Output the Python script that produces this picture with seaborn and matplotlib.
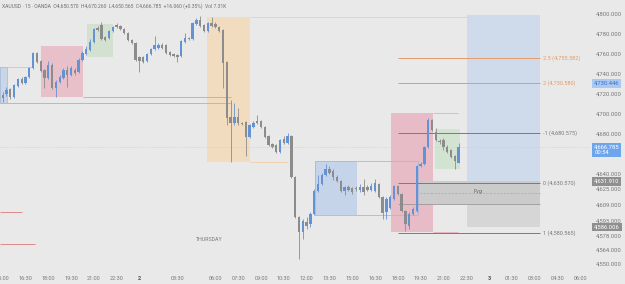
import numpy as np
import pandas as pd
import seaborn as sns
import matplotlib
matplotlib.use("Agg")
import matplotlib.pyplot as plt
from matplotlib.patches import Rectangle
from matplotlib.transforms import blended_transform_factory

# XAUUSD 15 min candles
opens = [4719, 4720, 4725, 4717, 4728, 4735, 4731, 4737, 4746, 4761,
         4753, 4744, 4736, 4749, 4726, 4732, 4736, 4744, 4739, 4744,
         4742, 4754, 4760, 4764, 4772, 4786, 4789, 4777, 4776, 4783,
         4789, 4788, 4785, 4781, 4774, 4771, 4757, 4757, 4753, 4760,
         4765, 4766, 4769, 4769, 4762, 4760, 4759, 4758, 4772, 4776,
         4775, 4790, 4794, 4789, 4783, 4791, 4790, 4787, 4784, 4752,
         4697, 4691, 4697, 4691, 4692, 4677, 4687, 4693, 4693, 4687,
         4678, 4670, 4669, 4662, 4675, 4671, 4678, 4636, 4596, 4581,
         4591, 4589, 4599, 4622, 4629, 4638, 4644, 4642, 4636, 4632,
         4622, 4626, 4625, 4625, 4623, 4626, 4626, 4623, 4622, 4629,
         4616, 4601, 4605, 4614, 4627, 4619, 4602, 4587, 4599, 4602,
         4647, 4649, 4667, 4694, 4682, 4673, 4674, 4667, 4664, 4657,
         4650.57]
highs = [4722, 4727, 4726, 4730, 4736, 4737, 4738, 4747, 4762, 4762,
         4754, 4745, 4753, 4751, 4734, 4739, 4746, 4748, 4748, 4746,
         4756, 4763, 4768, 4775, 4786, 4788, 4792, 4778, 4784, 4788,
         4791, 4789, 4786, 4782, 4775, 4772, 4758, 4758, 4761, 4766,
         4778, 4771, 4771, 4770, 4763, 4761, 4760, 4774, 4781, 4777,
         4792, 4796, 4798, 4790, 4792, 4797, 4792, 4788, 4785, 4753,
         4714, 4711, 4706, 4692, 4693, 4690, 4693, 4699, 4694, 4688,
         4679, 4671, 4670, 4675, 4678, 4681, 4679, 4637, 4597, 4594,
         4596, 4601, 4624, 4638, 4640, 4649, 4647, 4644, 4638, 4633,
         4627, 4628, 4626, 4627, 4629, 4634, 4628, 4630, 4634, 4630,
         4617, 4616, 4618, 4628, 4628, 4620, 4603, 4601, 4606, 4648,
         4651, 4668, 4696, 4695, 4686, 4675, 4676, 4669, 4665, 4658,
         4670.26]
lows = [4712, 4718, 4715, 4716, 4727, 4730, 4730, 4736, 4745, 4751,
        4742, 4726, 4735, 4725, 4717, 4731, 4735, 4727, 4738, 4739,
        4741, 4753, 4759, 4763, 4771, 4783, 4774, 4773, 4775, 4782,
        4786, 4784, 4780, 4773, 4770, 4753, 4742, 4751, 4752, 4759,
        4764, 4765, 4765, 4760, 4758, 4757, 4752, 4757, 4771, 4774,
        4774, 4789, 4787, 4782, 4782, 4787, 4786, 4782, 4726, 4689,
        4651, 4689, 4689, 4689, 4657, 4676, 4686, 4690, 4686, 4676,
        4668, 4666, 4661, 4661, 4670, 4670, 4635, 4595, 4554, 4574,
        4584, 4586, 4598, 4621, 4628, 4637, 4639, 4633, 4631, 4621,
        4618, 4622, 4619, 4622, 4621, 4618, 4622, 4622, 4621, 4615,
        4594, 4594, 4604, 4613, 4618, 4601, 4582, 4584, 4598, 4601,
        4646, 4648, 4666, 4683, 4673, 4670, 4664, 4661, 4655, 4644,
        4650.565]
closes = [4716, 4724, 4717, 4729, 4735, 4731, 4737, 4746, 4761, 4752,
          4743, 4736, 4749, 4726, 4732, 4737, 4744, 4739, 4746, 4741,
          4754, 4761, 4765, 4772, 4785, 4784, 4775, 4774, 4783, 4787,
          4787, 4785, 4781, 4774, 4771, 4754, 4753, 4752, 4760, 4765,
          4769, 4769, 4766, 4761, 4759, 4758, 4757, 4773, 4776, 4775,
          4791, 4794, 4788, 4783, 4791, 4788, 4787, 4783, 4751, 4696,
          4691, 4697, 4691, 4690, 4677, 4689, 4691, 4691, 4687, 4677,
          4669, 4667, 4662, 4674, 4671, 4678, 4636, 4596, 4581, 4592,
          4587, 4599, 4622, 4629, 4638, 4644, 4640, 4636, 4632, 4622,
          4626, 4623, 4621, 4624, 4626, 4621, 4623, 4627, 4630, 4616,
          4600, 4614, 4616, 4627, 4619, 4602, 4589, 4599, 4604, 4647,
          4649, 4667, 4694, 4684, 4674, 4672, 4667, 4662, 4656, 4652,
          4666.785]

# time axis (bar index of each label)
tick_pos = [0, 6, 12, 18, 24, 30, 36, 46, 56, 62, 68, 74, 80, 86, 92,
            98, 104, 110, 116, 122, 128, 134, 140, 146, 152]
tick_labels = ["15:00", "16:30", "18:00", "19:30", "21:00", "22:30", "2",
               "03:30", "06:00", "07:30", "09:00", "10:30", "12:00", "13:30",
               "15:00", "16:30", "18:00", "19:30", "21:00", "22:30", "3",
               "01:30", "03:00", "04:30", "06:00"]
price_ticks = [4800, 4780, 4760, 4740, 4720, 4700, 4680, 4640, 4625, 4609,
               4593, 4578, 4564, 4550]

# session / drawing boxes (bar from, bar to, price low, price high)
zone_names = ["left_blue", "pink_1", "green_1", "orange", "mid_blue",
              "pink_2", "green_2", "target", "stop", "fvg"]
zone_x0 = [-0.7, 10.1, 22.2, 53.8, 82.2, 102.2, 113.8, 122.2, 122.2, 109.8]
zone_x1 = [1.1, 21.1, 29.0, 65.1, 93.2, 113.2, 120.4, 141.4, 141.4, 141.4]
zone_lo = [4711, 4717, 4757, 4651, 4598, 4581, 4644, 4631.91, 4586.006, 4609]
zone_hi = [4747, 4768, 4790, 4797, 4652, 4701, 4685, 4799, 4631.91, 4631.91]

fib_names = ["2.5", "2", "-1", "0", "1"]
fib_levels = [4755.582, 4730.580, 4680.575, 4630.570, 4580.565]

last_price = 4666.785

sns.set_theme(style="white")
plt.rcParams["font.family"] = ["Roboto", "DejaVu Sans"]

BG = "#e9e9e9"
UP = "#6592d2"
DOWN = "#8c8c8c"
TXT = "#787878"
ORANGE = "#e49a66"
zone_colors = {
    "left_blue": "#c9d6e8", "pink_1": "#e8c0c9", "green_1": "#d3e2d0",
    "orange": "#f1dcc0", "mid_blue": "#c6d4ea", "pink_2": "#e8bcc7",
    "green_2": "#d3e3d1", "target": "#cfdbea", "stop": "#d6d6d6",
    "fvg": "#cbcbcb",
}

fig = plt.figure(figsize=(6.25, 2.84), dpi=100, facecolor=BG)
ax = fig.add_axes([0, 16 / 284, 590 / 625, 268 / 284], facecolor=BG)

for name, x0, x1, lo, hi in zip(zone_names, zone_x0, zone_x1, zone_lo, zone_hi):
    ax.add_patch(Rectangle((x0, lo), x1 - x0, hi - lo, fc=zone_colors[name],
                           ec="none", zorder=1))

# outlines and extended lines of the boxes
ax.add_patch(Rectangle((82.2, 4598), 27.1, 54, fc="none", ec="#a9b8da",
                       lw=0.6, zorder=2))
ax.add_patch(Rectangle((-0.7, 4711), 1.8, 36, fc="none", ec="#a9bcd8",
                       lw=0.6, zorder=2))
ax.hlines(4711, -0.7, 60, color="#a9bcd8", lw=0.7, zorder=2)
ax.hlines(4747, 1.1, 8, color="#bccbe0", lw=0.6, zorder=2)
ax.hlines(4717, 21.1, 60, color="#e3a4a4", lw=0.7, zorder=2)
ax.hlines(4797, 65.1, 125, color="#f0d2b0", lw=0.7, zorder=2)
ax.hlines(4651, 65.1, 75, color="#f0d2b0", lw=0.7, zorder=2)
ax.hlines([4701, 4581], 113.2, 119.8, color="#e8b4c0", lw=0.7, zorder=2)
ax.hlines(4601, -0.7, 5, color="#e08a8a", lw=0.7, zorder=2)
ax.hlines(4569, -0.7, 8.5, color="#e08a8a", lw=0.7, zorder=2)
ax.hlines(4609, 104, 141.4, color="#9a9a9a", lw=0.6, zorder=2)
ax.hlines(4620.5, 109.8, 141.4, color="#a8a8a8", lw=0.5, ls=(0, (3, 2)), zorder=2)
ax.axhline(last_price, color="#cfcfcf", lw=0.5, ls=(0, (1, 1)), zorder=2)

for name, lvl in zip(fib_names, fib_levels):
    col = ORANGE if name in ("2.5", "2") else "#7a7a7a"
    ax.hlines(lvl, 104, 141.4, color=col, lw=0.7, zorder=2)
    ax.text(142.3, lvl, f"{name} ({lvl:,.3f})", color=col, fontsize=4,
            va="center", ha="left", zorder=6)

ax.text(125, 4622, "Fvg", color="#666666", fontsize=4, va="center", ha="center")
ax.text(54.3, 4574, "THURSDAY", color="#7a7a7a", fontsize=3.8, va="center",
        ha="center")

# candles
df = pd.DataFrame({"open": opens, "high": highs, "low": lows, "close": closes})
df["bar"] = np.arange(len(df))
colors = np.where(df["close"] >= df["open"], UP, DOWN)
ax.vlines(df["bar"], df["low"], df["high"], colors=colors, lw=0.6, zorder=3)
body_lo = df[["open", "close"]].min(axis=1)
body_h = (df["close"] - df["open"]).abs().clip(lower=0.8)
ax.bar(df["bar"], body_h, bottom=body_lo, width=0.62, color=colors, lw=0,
       zorder=4)

ax.set_xlim(-0.71, 154.6)
ax.set_ylim(4545.1, 4814.05)
for s in ax.spines.values():
    s.set_visible(False)
ax.grid(False)

ax.set_xticks(tick_pos, tick_labels)
ax.tick_params(axis="x", length=0, pad=5.5, labelsize=4, labelcolor=TXT)
for lab in ax.get_xticklabels():
    if lab.get_text() in ("2", "3"):
        lab.set_fontweight("bold")
        lab.set_color("#555555")

ax.yaxis.tick_right()
ax.set_yticks(price_ticks, [f"{v:,.3f}" for v in price_ticks])
ax.tick_params(axis="y", length=0, pad=4.5, labelsize=4.2, labelcolor=TXT)

# highlighted price labels on the right scale
tr = blended_transform_factory(ax.transAxes, ax.transData)
ax.text(1.007, 4730.446, "4,730.446", transform=tr, fontsize=4.2,
        color="#3d6fc0", va="center", ha="left",
        bbox=dict(boxstyle="square,pad=0.3", fc="#a9c9f3", ec="none"))
ax.text(1.007, 4663.5, "4,666.785\n00:54", transform=tr, fontsize=4.2,
        color="white", va="center", ha="left", linespacing=1.2,
        bbox=dict(boxstyle="square,pad=0.3", fc="#6ea6ee", ec="none"))
ax.text(1.007, 4631.91, "4,631.910", transform=tr, fontsize=4.2,
        color="white", va="center", ha="left",
        bbox=dict(boxstyle="square,pad=0.3", fc="#8f8f8f", ec="none"))
ax.text(1.007, 4586.006, "4,586.006", transform=tr, fontsize=4.2,
        color="white", va="center", ha="left",
        bbox=dict(boxstyle="square,pad=0.3", fc="#8f8f8f", ec="none"))

fig.text(2 / 625, 1 - 6 / 284,
         "XAUUSD \u00b7 15 \u00b7 OANDA  O4,650.570  H4,670.260  L4,650.565  "
         "C4,666.785  +16.060 (+0.35%)  Vol 7.31K",
         fontsize=3.6, color="#6f6f6f", va="center", ha="left")

fig.savefig("out.png", dpi=100, facecolor=BG)
